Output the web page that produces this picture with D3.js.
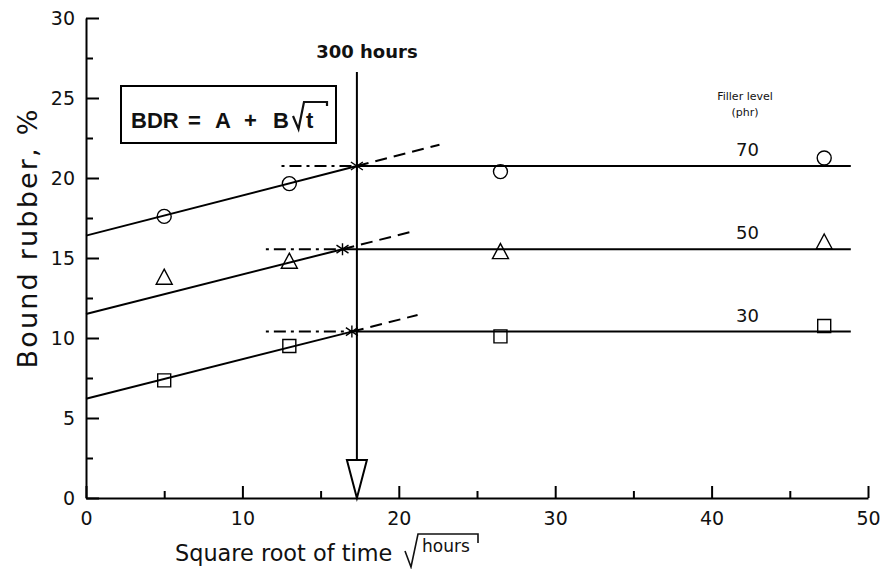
<!DOCTYPE html>
<html><head><meta charset="utf-8">
<script src="https://cdn.jsdelivr.net/npm/d3@7"></script>
<style>body{margin:0;background:#fff}</style>
</head><body>
<svg id="chart" width="884" height="569"></svg>
<script>
// ---- data ----
const xTicks = [0, 10, 20, 30, 40, 50];
const xMinorTicks = [5, 15, 25, 35, 45];
const yTicks = [0, 5, 10, 15, 20, 25, 30];
const yMinorTicks = [2.5, 7.5, 12.5, 17.5, 22.5, 27.5];
const fillerLevels = ["70", "50", "30"];
const sqrtTime = [5, 13, 26.5, 47.2];
const bdr70 = [17.6, 19.65, 20.4, 21.25];
const bdr50 = [13.8, 14.8, 15.4, 16.0];
const bdr30 = [7.35, 9.5, 10.1, 10.75];
const fitIntercept = [16.4, 11.5, 6.2];
const plateau = [20.75, 15.55, 10.4];
const breakSqrtT = [17.32, 16.4, 17.0];
const extendSqrtT = [22.6, 20.9, 21.2];
const dashStartSqrtT = [12.5, 11.5, 11.5];
const plateauEndSqrtT = 48.9;
const labelSqrtT = 42.3;
const markerShapes = ["circle", "triangle", "square"];
const cutoffHours = 300;

const seriesValues = [bdr70, bdr50, bdr30];

// ---- scales ----
const svg = d3.select("#chart");
const x = d3.scaleLinear().domain([0, 50]).range([86, 868]);
const y = d3.scaleLinear().domain([0, 30]).range([498, 18]);
const FONT = "'DejaVu Sans', sans-serif";
const BOLDFONT = "'Liberation Sans', Arial, sans-serif";

// ---- axes ----
svg.append("g").attr("transform", `translate(${x(0)},0)`)
  .call(d3.axisLeft(y).tickValues(yTicks).tickSizeInner(-13).tickSizeOuter(0).tickPadding(11).tickFormat(d3.format("d")));
const yMinor = svg.append("g").attr("transform", `translate(${x(0)},0)`)
  .call(d3.axisLeft(y).tickValues(yMinorTicks).tickSizeInner(-7).tickSizeOuter(0).tickFormat(""));
svg.append("g").attr("transform", `translate(0,${y(0)})`)
  .call(d3.axisBottom(x).tickValues(xTicks).tickSizeInner(-12).tickSizeOuter(0).tickPadding(14).tickFormat(d3.format("d")));
const xMinor = svg.append("g").attr("transform", `translate(0,${y(0)})`)
  .call(d3.axisBottom(x).tickValues(xMinorTicks).tickSizeInner(-7).tickSizeOuter(0).tickFormat(""));
[yMinor, xMinor].forEach(g => g.select(".domain").remove());
svg.selectAll(".domain").attr("stroke", "#000").attr("stroke-width", 2);
svg.selectAll(".tick line").attr("stroke", "#000").attr("stroke-width", 2);
svg.selectAll(".tick text").attr("font-family", FONT).attr("font-size", 19).attr("fill", "#111");

// axis titles
svg.append("text")
  .attr("transform", `translate(37,238) rotate(-90)`)
  .attr("text-anchor", "middle").attr("font-family", FONT).attr("font-size", 27)
  .attr("letter-spacing", 2.2).attr("fill", "#111")
  .text("Bound rubber, %");
svg.append("text").attr("x", 175).attr("y", 561)
  .attr("font-family", FONT).attr("font-size", 22.4).attr("fill", "#111")
  .text("Square root of time");
svg.append("path")
  .attr("d", "M405,551 L411,567 L418,534 L478,534 L478,543")
  .attr("fill", "none").attr("stroke", "#111").attr("stroke-width", 1.6);
svg.append("text").attr("x", 422).attr("y", 552)
  .attr("font-family", FONT).attr("font-size", 17).attr("fill", "#111")
  .text("hours");

// ---- 300 hours cutoff line with arrow ----
const cx = x(Math.sqrt(cutoffHours));
svg.append("line").attr("x1", cx).attr("x2", cx).attr("y1", 72).attr("y2", 460)
  .attr("stroke", "#000").attr("stroke-width", 2);
svg.append("path")
  .attr("d", `M${cx - 10},460 L${cx + 10},460 L${cx},${y(0)} Z`)
  .attr("fill", "#fff").attr("stroke", "#000").attr("stroke-width", 2);
svg.append("text").attr("x", cx + 10).attr("y", 58).attr("text-anchor", "middle")
  .attr("font-family", FONT).attr("font-weight", "bold").attr("font-size", 18).attr("fill", "#111")
  .text(cutoffHours + " hours");

// ---- equation box ----
svg.append("rect").attr("x", 121).attr("y", 86).attr("width", 215).attr("height", 57)
  .attr("fill", "none").attr("stroke", "#000").attr("stroke-width", 2);
const eqTokens = [["BDR", 131], ["=", 188], ["A", 215], ["+", 244], ["B", 273]];
svg.selectAll("text.eq").data(eqTokens).enter().append("text").attr("class", "eq")
  .attr("x", d => d[1]).attr("y", 128)
  .attr("font-family", BOLDFONT).attr("font-weight", "bold")
  .attr("font-size", 22).attr("fill", "#111").text(d => d[0]);
svg.append("path").attr("d", "M293,116 L298.5,129 L304,102 L327,102 L327,106")
  .attr("fill", "none").attr("stroke", "#111").attr("stroke-width", 2.2);
svg.append("text").attr("x", 306).attr("y", 128)
  .attr("font-family", BOLDFONT).attr("font-weight", "bold")
  .attr("font-size", 22).attr("fill", "#111").text("t");

// ---- legend header ----
svg.append("text").attr("x", 745).attr("y", 100).attr("text-anchor", "middle")
  .attr("font-family", FONT).attr("font-size", 11).attr("fill", "#111").text("Filler level");
svg.append("text").attr("x", 745).attr("y", 116).attr("text-anchor", "middle")
  .attr("font-family", FONT).attr("font-size", 11).attr("fill", "#111").text("(phr)");

// ---- series ----
fillerLevels.forEach((lvl, i) => {
  const slope = (plateau[i] - fitIntercept[i]) / breakSqrtT[i];
  const fit = t => fitIntercept[i] + slope * t;
  const g = svg.append("g");
  g.append("line").attr("x1", x(0)).attr("y1", y(fitIntercept[i]))
    .attr("x2", x(breakSqrtT[i])).attr("y2", y(plateau[i]))
    .attr("stroke", "#000").attr("stroke-width", 2);
  g.append("line").attr("x1", x(breakSqrtT[i])).attr("y1", y(plateau[i]))
    .attr("x2", x(extendSqrtT[i])).attr("y2", y(fit(extendSqrtT[i])))
    .attr("stroke", "#000").attr("stroke-width", 2).attr("stroke-dasharray", "12,7");
  g.append("line").attr("x1", x(dashStartSqrtT[i])).attr("y1", y(plateau[i]))
    .attr("x2", x(breakSqrtT[i])).attr("y2", y(plateau[i]))
    .attr("stroke", "#000").attr("stroke-width", 2).attr("stroke-dasharray", "3,5,12,5");
  g.append("line").attr("x1", x(breakSqrtT[i])).attr("y1", y(plateau[i]))
    .attr("x2", x(plateauEndSqrtT)).attr("y2", y(plateau[i]))
    .attr("stroke", "#000").attr("stroke-width", 2);
  const jx = x(breakSqrtT[i]), jy = y(plateau[i]);
  g.append("path").attr("d", `M${jx},${jy - 6} L${jx},${jy + 6} M${jx + 6},${jy - 4} L${jx - 6},${jy + 4} M${jx + 6},${jy + 4} L${jx - 6},${jy - 4}`)
    .attr("stroke", "#000").attr("stroke-width", 1.4).attr("fill", "none");
  g.append("text").attr("x", x(labelSqrtT)).attr("y", y(plateau[i]) - 10).attr("text-anchor", "middle")
    .attr("font-family", FONT).attr("font-size", 18).attr("fill", "#111").text(lvl);
  const pts = sqrtTime.map((t, j) => [t, seriesValues[i][j]]);
  const shape = markerShapes[i];
  const m = g.selectAll("path.m").data(pts).enter().append("path").attr("class", "m")
    .attr("transform", d => `translate(${x(d[0])},${y(d[1])})`)
    .attr("fill", "none").attr("stroke", "#000").attr("stroke-width", 1.4);
  if (shape === "circle") m.attr("d", d3.symbol().type(d3.symbolCircle).size(Math.PI * 49)());
  else if (shape === "triangle") m.attr("d", "M0,-8 L8,7 L-8,7 Z");
  else m.attr("d", "M-6.5,-6.5 L6.5,-6.5 L6.5,6.5 L-6.5,6.5 Z");
});
</script>
</body></html>
